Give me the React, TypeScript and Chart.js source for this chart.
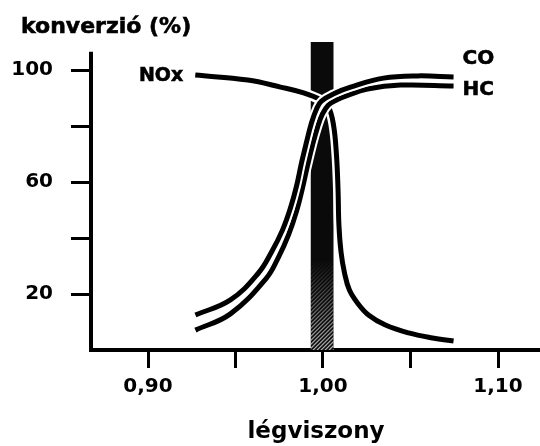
import React, { useEffect, useRef } from 'react';
import { Chart, registerables } from 'chart.js';

Chart.register(...registerables);

const FONT = 'DejaVu Sans';

// NOx conversion (%) vs air ratio
const noxX = [0.927, 0.957, 0.9757, 0.9889, 0.9986, 1.0031, 1.006, 1.0077, 1.0086, 1.0091, 1.0103, 1.0123, 1.0151, 1.0197, 1.026, 1.0357, 1.0489, 1.0626, 1.0746];
const noxY = [98.2, 96.4, 93.9, 91.8, 89.3, 86.8, 80.4, 69.6, 57.1, 44.6, 35.0, 27.5, 21.4, 16.8, 12.5, 8.9, 6.1, 4.3, 3.2];

// CO conversion (%)
const coX = [0.9271, 0.9471, 0.9631, 0.9706, 0.9769, 0.9814, 0.9849, 0.9877, 0.9906, 0.9934, 0.9963, 0.9991, 1.0071, 1.0157, 1.0346, 1.054, 1.0746];
const coY = [12.5, 17.9, 27.5, 35.0, 42.9, 50.7, 58.6, 66.8, 74.3, 81.1, 86.1, 88.9, 91.8, 93.9, 97.1, 97.9, 97.5];

// HC conversion (%)
const hcX = [0.9271, 0.9471, 0.9677, 0.9746, 0.9803, 0.9849, 0.9883, 0.9911, 0.994, 0.9969, 0.9997, 1.0031, 1.0077, 1.0129, 1.0254, 1.0443, 1.0746];
const hcY = [7.1, 12.9, 25.7, 33.2, 41.1, 49.6, 57.9, 65.7, 73.2, 79.6, 84.3, 87.5, 89.3, 90.7, 93.2, 94.6, 94.3];

const xTickValues = [0.9, 0.95, 1.0, 1.05, 1.1];
const xTickLabels = ['0,90', '', '1,00', '', '1,10'];
const yTickValues = [20, 40, 60, 80, 100];
const yTickLabels = ['20', '', '60', '', '100'];

const bandRange = [0.993, 1.006];
const bandTop = 110;
const yAxisTop = 106.5;
const xMin = 0.868;
const xMax = 1.124;
const yMin = 0;
const yMax = 110;

const titleText = 'konverzió (%)';
const xTitle = 'légviszony';
const seriesNames = ['NOx', 'CO', 'HC'];

const toPts = (xs: number[], ys: number[]) => xs.map((x, i) => ({ x, y: ys[i] }));

const bandPlugin = {
  id: 'band',
  beforeDatasetsDraw(chart: any) {
    const { ctx, scales } = chart;
    const x = scales.x, y = scales.y;
    const x0 = x.getPixelForValue(bandRange[0]);
    const x1 = x.getPixelForValue(bandRange[1]);
    const yt = y.getPixelForValue(bandTop);
    const yb = y.getPixelForValue(0);
    ctx.save();
    ctx.fillStyle = '#0a0a0a';
    ctx.fillRect(x0, yt, x1 - x0, yb - yt);
    const yh = y.getPixelForValue(32);
    ctx.beginPath();
    ctx.rect(x0, yh, x1 - x0, yb - yh);
    ctx.clip();
    const grad = ctx.createLinearGradient(0, yh, 0, yb);
    grad.addColorStop(0, 'rgba(255,255,255,0)');
    grad.addColorStop(1, 'rgba(255,255,255,0.7)');
    ctx.strokeStyle = grad;
    ctx.lineWidth = 1.2;
    for (let k = -140; k < 200; k += 4) {
      ctx.beginPath();
      ctx.moveTo(x0 + k, yh);
      ctx.lineTo(x0 + k - 140, yh + 140);
      ctx.stroke();
    }
    ctx.restore();
  },
};

const labelPlugin = {
  id: 'labels',
  afterDatasetsDraw(chart: any) {
    const { ctx, scales, chartArea } = chart;
    const x = scales.x, y = scales.y;
    ctx.save();
    ctx.strokeStyle = '#000';
    ctx.lineWidth = 4;
    ctx.beginPath();
    ctx.moveTo(chartArea.left - 1, y.getPixelForValue(0) + 2);
    ctx.lineTo(chartArea.left - 1, y.getPixelForValue(yAxisTop));
    ctx.stroke();
    ctx.fillStyle = '#000';
    ctx.strokeStyle = '#000';
    ctx.lineWidth = 0.6;
    ctx.font = `bold 22px "${FONT}"`;
    ctx.textAlign = 'left';
    ctx.textBaseline = 'alphabetic';
    ctx.fillText(titleText, 21, 33);
    ctx.strokeText(titleText, 21, 33);
    ctx.font = `bold 19px "${FONT}"`;
    ctx.textBaseline = 'middle';
    ctx.textAlign = 'right';
    const nx = x.getPixelForValue(noxX[0]) - 12, ny = y.getPixelForValue(noxY[0]) + 1;
    ctx.fillText(seriesNames[0], nx, ny);
    ctx.strokeText(seriesNames[0], nx, ny);
    ctx.textAlign = 'left';
    ctx.font = `bold 20px "${FONT}"`;
    const cl = coX.length - 1, hl = hcX.length - 1;
    const cx = x.getPixelForValue(coX[cl]) + 9, cy = y.getPixelForValue(coY[cl]) - 18;
    const hx = x.getPixelForValue(hcX[hl]) + 9, hy = y.getPixelForValue(hcY[hl]) + 4;
    ctx.fillText(seriesNames[1], cx, cy);
    ctx.strokeText(seriesNames[1], cx, cy);
    ctx.fillText(seriesNames[2], hx, hy);
    ctx.strokeText(seriesNames[2], hx, hy);
    ctx.restore();
  },
};

function line(data: any[], color: string, width: number, order: number) {
  return {
    data,
    borderColor: color,
    borderWidth: width,
    pointRadius: 0,
    fill: false,
    tension: 0.4,
    borderCapStyle: 'butt',
    order,
  };
}

export default function App() {
  const ref = useRef<HTMLCanvasElement>(null);
  useEffect(() => {
    document.body.style.margin = '0';
    const nox = toPts(noxX, noxY);
    const co = toPts(coX, coY);
    const hc = toPts(hcX, hcY);
    const tickFont = { family: FONT, size: 20, weight: 'bold' as const };
    const chart = new Chart(ref.current!, {
      type: 'line',
      data: {
        datasets: [
          line(nox, '#fff', 10, 6),
          line(nox, '#000', 5, 5),
          line(hc, '#fff', 9, 4),
          line(hc, '#000', 5, 3),
          line(co, '#fff', 9, 2),
          line(co, '#000', 5, 1),
        ] as any,
      },
      options: {
        animation: false,
        responsive: true,
        maintainAspectRatio: false,
        layout: { padding: { top: 42, left: 0, right: 0, bottom: 0 } },
        plugins: { legend: { display: false }, tooltip: { enabled: false }, title: { display: false } },
        scales: {
          x: {
            type: 'linear',
            min: xMin,
            max: xMax,
            afterBuildTicks: (s: any) => { s.ticks = xTickValues.map((v) => ({ value: v })); },
            afterFit: (s: any) => { s.height = 96; },
            ticks: {
              callback: (_v: any, i: number) => xTickLabels[i],
              font: tickFont,
              color: '#000',
              padding: 7,
              maxRotation: 0,
              autoSkip: false,
            },
            grid: { display: true, drawOnChartArea: false, drawTicks: true, tickLength: 18, color: '#000', lineWidth: 3 },
            border: { display: true, color: '#000', width: 4 },
            title: {
              display: true,
              text: xTitle,
              color: '#000',
              font: { family: FONT, size: 23, weight: 'bold' },
              padding: { top: 0, bottom: 0 },
            },
          },
          y: {
            type: 'linear',
            min: yMin,
            max: yMax,
            afterBuildTicks: (s: any) => { s.ticks = yTickValues.map((v) => ({ value: v })); },
            afterFit: (s: any) => { s.width = 92; },
            ticks: {
              callback: (_v: any, i: number) => yTickLabels[i],
              font: tickFont,
              color: '#000',
              padding: 18,
              autoSkip: false,
            },
            grid: { display: true, drawOnChartArea: false, drawTicks: true, tickLength: 21, color: '#000', lineWidth: 3 },
            border: { display: false },
          },
        },
      },
      plugins: [bandPlugin, labelPlugin],
    });
    return () => chart.destroy();
  }, []);
  return (
    <div style={{ position: 'relative', width: 540, height: 446, background: '#fff' }}>
      <canvas ref={ref} />
    </div>
  );
}
